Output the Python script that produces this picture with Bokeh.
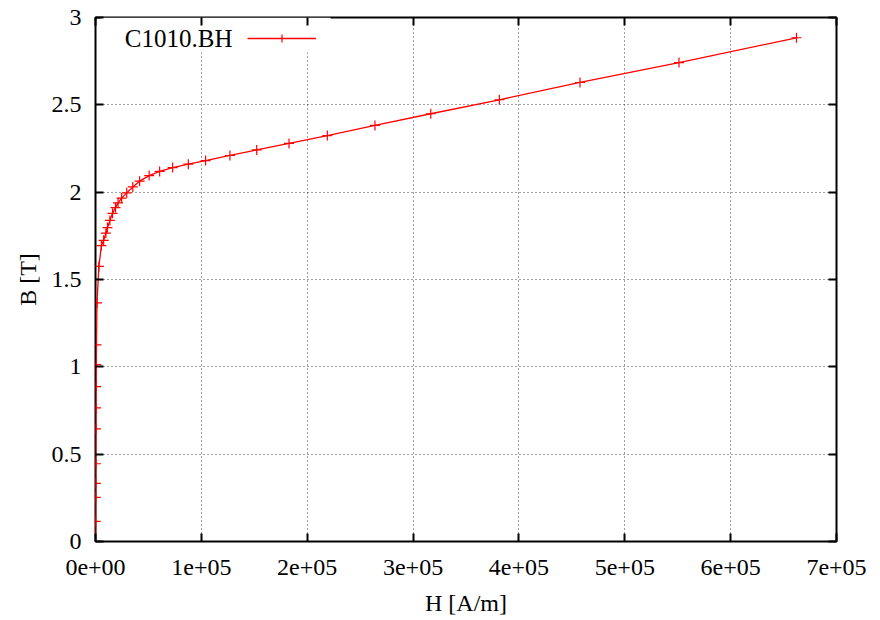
from bokeh.plotting import figure
from bokeh.models import (FixedTicker, LinearAxis, Range1d, Legend, LegendItem,
                          Label, BoxAnnotation, CustomLabelingPolicy)
from bokeh.core.properties import value
from bokeh.embed import file_html
from bokeh.resources import INLINE

# ---- data (H in A/m, B in T) ----
H = [0, 100, 200, 250, 300, 400, 500, 600, 700, 900, 1400, 3200,
     5600, 7700, 9800, 11300, 13600, 16100, 18900, 21300, 24700, 29500,
     35200, 41700, 50700, 60600, 72900, 87700, 104000, 127000, 152300,
     182800, 219000, 264000, 316700, 381500, 457700, 551200, 662200]
B = [0.0, 0.115, 0.253, 0.333, 0.445, 0.645, 0.765, 0.887, 1.013, 1.126,
     1.366, 1.575, 1.694, 1.724, 1.765, 1.797, 1.838, 1.879, 1.912, 1.939,
     1.966, 1.996, 2.030, 2.063, 2.095, 2.119, 2.141, 2.160, 2.181, 2.210,
     2.242, 2.279, 2.324, 2.382, 2.449, 2.529, 2.628, 2.742, 2.884]
series_name = "C1010.BH"
x_title = "H [A/m]"
y_title = "B [T]"

x_ticks = [0, 100000, 200000, 300000, 400000, 500000, 600000, 700000]
x_tick_labels = ["0e+00", "1e+05", "2e+05", "3e+05", "4e+05", "5e+05", "6e+05", "7e+05"]
y_ticks = [0, 0.5, 1, 1.5, 2, 2.5, 3]
y_tick_labels = ["0", "0.5", "1", "1.5", "2", "2.5", "3"]

FONT = "Liberation Serif"

p = figure(width=880, height=620, output_backend="svg", toolbar_location=None,
           x_range=Range1d(0, 700000), y_range=Range1d(0, 3),
           min_border_left=95, min_border_right=44, min_border_top=17,
           min_border_bottom=79, background_fill_color="white",
           border_fill_color="white")

p.outline_line_color = "black"
p.outline_line_width = 2

p.xaxis.ticker = FixedTicker(ticks=x_ticks)
p.yaxis.ticker = FixedTicker(ticks=y_ticks)
p.xaxis.major_label_overrides = dict(zip(x_ticks, x_tick_labels))
p.yaxis.major_label_overrides = dict(zip(y_ticks, y_tick_labels))

for ax in (p.xaxis[0], p.yaxis[0]):
    ax.axis_line_color = None
    ax.major_tick_in = 8
    ax.major_tick_out = 0
    ax.major_tick_line_width = 2
    ax.major_tick_line_color = "black"
    ax.minor_tick_line_color = None
    ax.major_label_text_font = FONT
    ax.major_label_text_font_size = "24px"
    ax.major_label_text_color = "black"
    ax.axis_label_text_font = FONT
    ax.axis_label_text_font_size = "24px"
    ax.axis_label_text_font_style = "normal"
    ax.axis_label_text_color = "black"

p.xaxis.axis_label = x_title
p.yaxis.axis_label = y_title
p.xaxis.major_label_standoff = 18
p.xaxis.axis_label_standoff = 12
p.yaxis.major_label_standoff = 14
p.yaxis.axis_label_standoff = 8

# mirrored tick marks on top and right (labels suppressed by policy)
hide_all = "for (const i of indices) indices.unset(i)"
top = LinearAxis(ticker=FixedTicker(ticks=x_ticks), axis_line_color=None,
                 major_tick_in=8, major_tick_out=0, major_tick_line_width=2,
                 minor_tick_line_color=None,
                 major_label_policy=CustomLabelingPolicy(code=hide_all),
                 major_label_standoff=0)
right = LinearAxis(ticker=FixedTicker(ticks=y_ticks), axis_line_color=None,
                   major_tick_in=8, major_tick_out=0, major_tick_line_width=2,
                   minor_tick_line_color=None,
                   major_label_policy=CustomLabelingPolicy(code=hide_all),
                   major_label_standoff=0)
p.add_layout(top, "above")
p.add_layout(right, "right")

for g in (p.xgrid[0], p.ygrid[0]):
    g.grid_line_color = "black"
    g.grid_line_alpha = 0.75
    g.grid_line_width = 1
    g.grid_line_dash = "1 3"

# opaque key box (hides the grid behind the key, like gnuplot)
key_box = BoxAnnotation(left=5, right=235, top=524, bottom=489,
                        left_units="screen", right_units="screen",
                        top_units="screen", bottom_units="screen",
                        fill_color="white", fill_alpha=1.0, line_color=None,
                        level="underlay")
p.add_layout(key_box)

line_r = p.line(H, B, line_color="red", line_width=1.3)
pts_r = p.scatter(H, B, marker="cross", size=10, line_color="red", line_width=1.2)

legend = Legend(items=[LegendItem(label=value(" "), renderers=[line_r, pts_r])],
                location=(152, 493), padding=0, margin=0, spacing=0,
                glyph_width=69, glyph_height=20, label_height=20, label_width=1,
                label_standoff=0, label_text_font_size="2px",
                border_line_color=None, background_fill_alpha=0.0)
p.add_layout(legend, "center")

key_label = Label(x=137, y=503, x_units="screen", y_units="screen",
                  text=series_name, text_align="right", text_baseline="middle",
                  text_font=FONT, text_font_size="25px", text_color="black")
p.add_layout(key_label)

open("out.html", "w").write(file_html(p, INLINE))
